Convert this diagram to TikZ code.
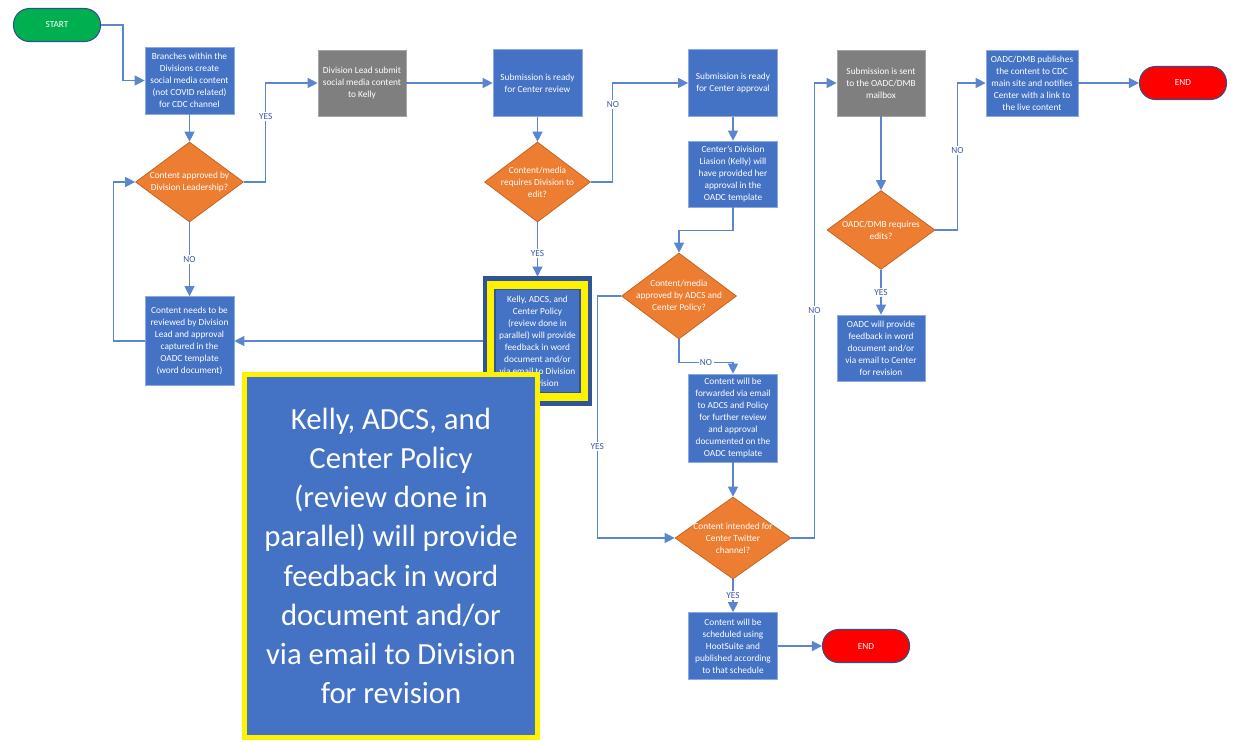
\documentclass[tikz,border=0pt]{standalone}
\usepackage{fontspec}
\setmainfont{Carlito}
\usepackage{tikz}
\usetikzlibrary{positioning}
\usetikzlibrary{arrows.meta}
\usetikzlibrary{shapes}

\definecolor{boxblue}{HTML}{4472C4}
\definecolor{boxedge}{HTML}{8EA9DB}
\definecolor{boxgray}{HTML}{7F7F7F}
\definecolor{grayedge}{HTML}{A6A6A6}
\definecolor{decorange}{HTML}{ED7D31}
\definecolor{decedge}{HTML}{C0601F}
\definecolor{termgreen}{HTML}{00B050}
\definecolor{termred}{HTML}{FF0000}
\definecolor{termedge}{HTML}{2F528F}
\definecolor{flowblue}{HTML}{5A86CF}
\definecolor{lblblue}{HTML}{3B5BA5}
\definecolor{hlblue}{HTML}{2F5597}

\newcommand{\smalltxt}{\fontsize{5.3}{6.8}\selectfont}
\newcommand{\bigtxt}{\fontsize{17.5}{22.3}\selectfont}

\tikzset{
  procbox/.style={rectangle, fill=boxblue, draw=boxedge, line width=0.4pt, text=white,
    align=center, font=\smalltxt, inner sep=1pt, minimum width=1.78cm, minimum height=1.34cm},
  graybox/.style={procbox, fill=boxgray, draw=grayedge},
  decbox/.style={diamond, fill=decorange, draw=decedge, line width=0.4pt, text=white,
    align=center, font=\smalltxt, inner sep=-5pt, aspect=1.35},
  termbox/.style={rectangle, rounded corners=0.32cm, draw=termedge, line width=0.6pt,
    text=white, font=\smalltxt, minimum width=1.74cm, minimum height=0.66cm},
  flowline/.style={draw=flowblue, line width=0.7pt, -{Triangle[length=0.2cm,width=0.2cm]}},
  yesno/.style={fill=white, text=lblblue, font=\smalltxt, inner sep=0.8pt},
}

\begin{document}
\begin{tikzpicture}[x=0.02cm, y=-0.02cm]
    \fill[white] (0,0) rectangle (1237,741);
    \useasboundingbox (0,0) rectangle (1237,741);

    % terminals
    \node[termbox, fill=termgreen] (start) at (57,25) {START};
    \node[termbox, fill=termred] (endpub) at (1183,83) {END};
    \node[termbox, fill=termred] (endsched) at (866,646) {END};

    % division column
    \node[procbox] (branch) at (189.5,80.5) {Branches within the\\Divisions create\\social media content\\(not COVID related)\\for CDC channel};
    \node[decbox, minimum width=2.16cm, minimum height=1.6cm] (divok) at (189.5,182) {Content approved by\\Division Leadership?};
    \node[procbox, minimum height=1.78cm] (review) at (189.5,341) {Content needs to be\\reviewed by Division\\Lead and approval\\captured in the\\OADC template\\(word document)};
    \node[graybox, minimum width=1.76cm, minimum height=1.32cm] (lead) at (362,83) {Division Lead submit\\social media content\\to Kelly};

    % center review
    \node[procbox] (ctrrev) at (537.5,83) {Submission is ready\\for Center review};
    \node[decbox, minimum width=2.12cm, minimum height=1.6cm] (divedit) at (537.5,182) {Content/media\\requires Division to\\edit?};
    \node[fill=yellow, draw=hlblue, line width=2.3pt, minimum width=2.1cm, minimum height=2.5cm] (hl) at (537.5,341) {};
    \node[procbox, draw=hlblue, line width=0.8pt, minimum width=1.7cm, minimum height=2.06cm] (hltext) at (hl.center) {Kelly, ADCS, and\\Center Policy\\(review done in\\parallel) will provide\\feedback in word\\document and/or\\via email to Division\\for revision};

    % center approval
    \node[procbox] (ctrappr) at (733,83) {Submission is ready\\for Center approval};
    \node[procbox, minimum height=1.32cm] (liaison) at (733,174) {Center's Division\\Liasion (Kelly) will\\have provided her\\approval in the\\OADC template};
    \node[decbox, minimum width=2.3cm, minimum height=1.72cm] (adcsok) at (679,296) {Content/media\\approved by ADCS and\\Center Policy?};
    \node[procbox, minimum height=1.76cm] (fwd) at (733,418) {Content will be\\forwarded via email\\to ADCS and Policy\\for further review\\and approval\\documented on the\\OADC template};
    \node[decbox, minimum width=2.32cm, minimum height=1.64cm] (twitter) at (733,538) {Content intended for\\Center Twitter\\channel?};
    \node[procbox] (sched) at (733,646) {Content will be\\scheduled using\\HootSuite and\\published according\\to that schedule};

    % OADC/DMB
    \node[graybox, minimum width=1.76cm, minimum height=1.32cm] (mailbox) at (881,83) {Submission is sent\\to the OADC/DMB\\mailbox};
    \node[decbox, minimum width=2.16cm, minimum height=1.58cm] (dmbedit) at (881,230) {OADC/DMB requires\\edits?};
    \node[procbox, minimum width=1.76cm, minimum height=1.32cm] (oadcfb) at (881,348) {OADC will provide\\feedback in word\\document and/or\\via email to Center\\for revision};
    \node[procbox, minimum width=1.84cm, minimum height=1.32cm] (publish) at (1032,83) {OADC/DMB publishes\\the content to CDC\\main site and notifies\\Center with a link to\\the live content};

    % connectors
    \draw[flowline] (start.east) -- ++(22,0) |- (branch.west);
    \draw[flowline] (branch.south) -- (divok.north);
    \draw[flowline] (divok.east) -- ++(22,0) |- node[yesno, pos=0.33] {YES} (lead.west);
    \draw[flowline] (divok.south) -- node[yesno] {NO} (review.north);
    \draw[flowline] (review.west) -- ++(-31,0) |- (divok.west);
    \draw[flowline] (lead.east) -- (ctrrev.west);
    \draw[flowline] (ctrrev.south) -- (divedit.north);
    \draw[flowline] (divedit.east) -- ++(22,0) |- node[yesno, pos=0.39] {NO} (ctrappr.west);
    \draw[flowline] (divedit.south) -- node[yesno, pos=0.57] {YES} (hl.north);
    \draw[flowline] (hl.west) -- (review.east);
    \draw[flowline] (ctrappr.south) -- (liaison.north);
    \draw[flowline] (liaison.south) -- ++(0,23) -| (adcsok.north);
    \draw[flowline] (adcsok.south) -- ++(0,23) -| node[yesno, pos=0.25] {NO} (fwd.north);
    \draw[flowline] (adcsok.west) -- ++(-24,0) |- node[yesno, pos=0.31] {YES} (twitter.west);
    \draw[flowline] (fwd.south) -- (twitter.north);
    \draw[flowline] (twitter.south) -- node[yesno] {YES} (sched.north);
    \draw[flowline] (sched.east) -- (endsched.west);
    \draw[flowline] (twitter.east) -- ++(23,0) |- node[yesno, pos=0.25] {NO} (mailbox.west);
    \draw[flowline] (mailbox.south) -- (dmbedit.north);
    \draw[flowline] (dmbedit.east) -- ++(22,0) |- node[yesno, pos=0.27] {NO} (publish.west);
    \draw[flowline] (dmbedit.south) -- node[yesno] {YES} (oadcfb.north);
    \draw[flowline] (publish.east) -- (endpub.west);

    % enlarged copy of the highlighted box
    \node[fill=boxblue, draw=yellow, line width=2.8pt, text=white, font=\bigtxt, align=center,
      minimum width=5.86cm, minimum height=7.26cm] (zoomed) at (391,556) {Kelly, ADCS, and\\Center Policy\\(review done in\\parallel) will provide\\feedback in word\\document and/or\\via email to Division\\for revision};
\end{tikzpicture}
\end{document}
